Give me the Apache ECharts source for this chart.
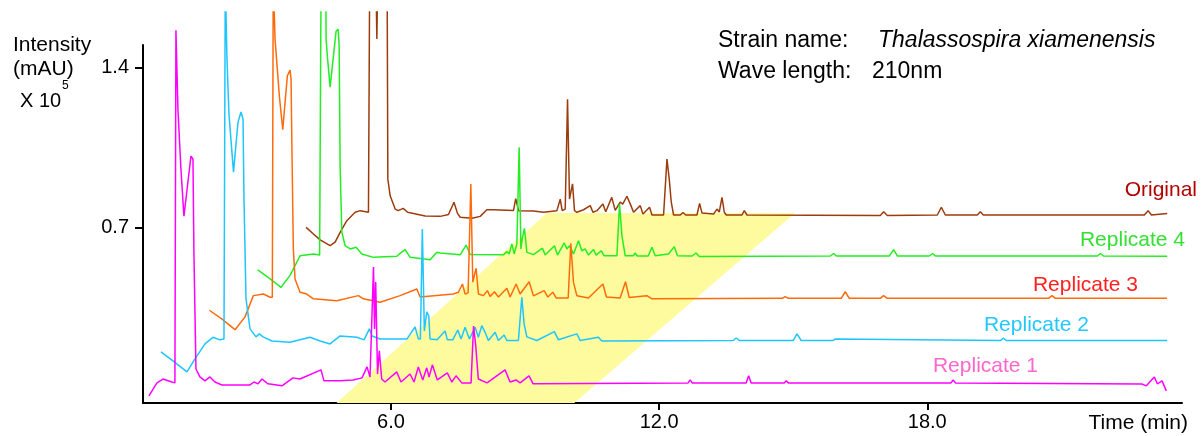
<!DOCTYPE html>
<html>
<head>
<meta charset="utf-8">
<script src="https://cdn.jsdelivr.net/npm/echarts@6/dist/echarts.min.js"></script>
<style>
  html, body { margin: 0; padding: 0; background: #fff; }
  #chart { width: 1202px; height: 436px; }
</style>
</head>
<body>
<div id="chart"></div>
<script>
// retention time (min) / intensity (x10^5 mAU), each trace in its own time
var rep1 = [[0.583,-0.037],[0.762,0.020],[0.896,0.037],[1.097,0.024],[1.164,0.020],[1.187,1.564],[1.232,1.218],[1.299,0.956],[1.366,0.750],[1.411,0.825],[1.523,1.013],[1.568,1.000],[1.590,0.584],[1.635,0.081],[1.724,0.046],[1.836,0.029],[1.948,0.046],[2.060,0.024],[2.217,0.011],[2.844,0.011],[2.933,0.024],[3.023,0.016],[3.112,0.037],[3.247,0.016],[3.560,0.007],[3.806,0.042],[3.963,0.037],[4.433,0.077],[4.500,0.029],[4.858,0.029],[5.149,0.033],[5.351,0.042],[5.463,0.090],[5.530,0.046],[5.608,0.527],[5.631,0.256],[5.657,0.462],[5.698,0.059],[5.738,0.160],[5.792,0.037],[5.866,0.024],[6.128,0.068],[6.224,0.024],[6.425,0.059],[6.515,0.024],[6.611,0.090],[6.710,0.033],[6.799,0.086],[6.851,0.046],[6.925,0.099],[7.036,0.033],[7.260,0.064],[7.359,0.024],[7.455,0.051],[7.583,0.020],[7.791,0.020],[7.847,0.269],[7.896,0.182],[7.954,0.037],[8.149,0.020],[8.552,0.077],[8.664,0.024],[8.798,0.033],[8.888,0.020],[9.089,0.051],[9.179,0.016],[12.649,0.020],[12.694,0.033],[12.739,0.020],[13.947,0.020],[14.003,0.051],[14.059,0.020],[14.800,0.020],[14.843,0.029],[14.890,0.020],[18.530,0.020],[18.581,0.033],[18.630,0.020],[22.800,0.015],[22.902,0.007],[23.081,0.046],[23.148,0.016],[23.253,0.029],[23.349,-0.015]];

var rep2 = [[-0.230,-0.030],[0.039,-0.069],[0.352,-0.117],[0.531,-0.060],[0.755,0.005],[0.934,0.034],[1.090,0.023],[1.180,0.027],[1.209,1.598],[1.232,1.598],[1.247,1.252],[1.292,1.011],[1.393,0.757],[1.494,0.976],[1.561,1.020],[1.606,0.990],[1.628,0.639],[1.673,0.202],[1.763,0.071],[1.897,0.036],[1.971,0.049],[2.054,0.036],[2.255,0.018],[2.658,0.012],[3.106,0.034],[3.330,0.018],[3.554,0.005],[3.778,0.040],[4.158,0.034],[4.315,0.023],[4.433,0.071],[4.493,0.040],[4.672,0.027],[5.277,0.027],[5.456,0.079],[5.530,0.027],[5.575,0.027],[5.619,0.508],[5.664,0.062],[5.718,0.145],[5.763,0.128],[5.792,0.027],[5.949,0.023],[6.128,0.062],[6.179,0.023],[6.300,0.023],[6.412,0.066],[6.486,0.027],[6.575,0.078],[6.672,0.027],[6.800,0.078],[6.873,0.034],[6.949,0.085],[7.023,0.056],[7.097,0.020],[7.247,0.056],[7.321,0.020],[7.448,0.044],[7.509,0.020],[7.768,0.020],[7.845,0.209],[7.896,0.093],[7.957,0.036],[8.180,0.020],[8.574,0.059],[8.664,0.023],[9.076,0.049],[9.150,0.020],[9.559,0.034],[9.636,0.018],[12.575,0.020],[12.642,0.031],[12.709,0.020],[13.918,0.020],[14.001,0.049],[14.097,0.020],[14.814,0.020],[14.859,0.027],[14.903,0.020],[18.552,0.020],[18.626,0.030],[18.686,0.020],[22.284,0.020]];

var rep3 = [[-0.230,-0.033],[0.048,-0.071],[0.345,-0.118],[0.569,-0.062],[0.755,0.031],[0.979,0.038],[1.129,0.024],[1.180,0.024],[1.200,1.413],[1.230,1.413],[1.241,1.154],[1.337,0.906],[1.413,0.757],[1.516,0.993],[1.577,1.018],[1.599,0.979],[1.621,0.643],[1.650,0.235],[1.688,0.104],[1.800,0.046],[1.950,0.038],[2.098,0.017],[2.622,0.009],[3.106,0.031],[3.217,0.017],[3.591,0.002],[4.039,0.031],[4.413,0.060],[4.487,0.025],[5.232,0.038],[5.344,0.046],[5.434,0.082],[5.494,0.038],[5.561,0.043],[5.622,0.520],[5.666,0.090],[5.740,0.151],[5.792,0.038],[5.904,0.031],[5.993,0.053],[6.054,0.027],[6.150,0.048],[6.240,0.025],[6.428,0.063],[6.501,0.025],[6.636,0.082],[6.725,0.038],[6.927,0.092],[7.023,0.030],[7.263,0.053],[7.345,0.025],[7.457,0.046],[7.531,0.021],[7.800,0.021],[7.860,0.260],[7.918,0.090],[7.995,0.030],[8.254,0.021],[8.577,0.082],[8.657,0.025],[8.964,0.021],[9.083,0.092],[9.165,0.023],[9.562,0.031],[9.674,0.017],[12.590,0.019],[12.657,0.027],[12.725,0.019],[13.911,0.019],[14.001,0.048],[14.091,0.019],[14.785,0.019],[14.858,0.031],[14.941,0.019],[18.545,0.019],[18.628,0.031],[18.702,0.019],[21.202,0.020]];

var rep4 = [[-0.228,-0.042],[0.048,-0.081],[0.294,-0.118],[0.495,-0.066],[0.719,0.020],[1.017,0.028],[1.156,0.023],[1.189,1.227],[1.294,1.227],[1.301,0.968],[1.335,0.881],[1.391,0.758],[1.458,0.881],[1.525,1.003],[1.570,1.012],[1.593,0.946],[1.615,0.413],[1.653,0.124],[1.727,0.064],[1.839,0.050],[1.973,0.057],[2.100,0.028],[2.360,0.013],[2.884,0.018],[2.942,0.028],[3.070,0.047],[3.182,0.013],[3.629,0.003],[3.779,0.035],[3.853,0.032],[4.301,0.024],[4.435,0.067],[4.525,0.026],[5.270,0.024],[5.346,0.038],[5.398,0.028],[5.458,0.072],[5.510,0.028],[5.570,0.072],[5.622,0.495],[5.660,0.050],[5.689,0.093],[5.740,0.140],[5.794,0.035],[5.942,0.025],[6.143,0.053],[6.204,0.023],[6.412,0.064],[6.479,0.023],[6.629,0.076],[6.689,0.050],[6.748,0.064],[6.837,0.028],[6.949,0.086],[7.025,0.041],[7.099,0.050],[7.173,0.023],[7.285,0.047],[7.345,0.023],[7.457,0.042],[7.524,0.020],[7.809,0.020],[7.867,0.247],[7.921,0.108],[7.995,0.020],[8.174,0.020],[8.218,0.032],[8.263,0.019],[8.509,0.019],[8.592,0.057],[8.666,0.020],[8.964,0.028],[9.092,0.060],[9.165,0.020],[9.494,0.019],[9.577,0.032],[9.651,0.017],[12.584,0.019],[12.658,0.030],[12.718,0.019],[13.904,0.019],[14.001,0.047],[14.084,0.019],[14.800,0.019],[14.874,0.030],[14.935,0.019],[18.562,0.019],[18.629,0.030],[18.696,0.019],[20.121,0.018]];

var original = [[-0.228,-0.041],[-0.064,-0.070],[0.086,-0.096],[0.309,-0.121],[0.421,-0.106],[0.533,-0.063],[0.683,-0.012],[0.869,0.025],[0.981,0.032],[1.167,0.025],[1.194,1.042],[1.335,1.042],[1.355,0.783],[1.375,1.042],[1.585,1.042],[1.601,0.170],[1.653,0.097],[1.765,0.039],[1.832,0.032],[1.944,0.042],[2.044,0.025],[2.436,0.009],[2.772,0.007],[2.958,0.015],[3.081,0.069],[3.159,0.020],[3.220,0.003],[3.482,-0.001],[3.667,0.007],[3.817,0.036],[3.965,0.036],[4.413,0.033],[4.462,0.085],[4.525,0.032],[4.861,0.030],[5.084,0.025],[5.384,0.032],[5.458,0.082],[5.503,0.032],[5.570,0.039],[5.622,0.520],[5.666,0.083],[5.734,0.149],[5.778,0.032],[5.832,0.025],[5.980,0.036],[6.130,0.054],[6.190,0.025],[6.280,0.032],[6.414,0.061],[6.477,0.027],[6.611,0.090],[6.689,0.033],[6.801,0.069],[6.857,0.061],[6.951,0.095],[7.041,0.054],[7.099,0.025],[7.249,0.054],[7.310,0.017],[7.457,0.047],[7.511,0.013],[7.771,0.013],[7.847,0.258],[7.898,0.170],[7.943,0.069],[7.995,0.013],[8.145,0.013],[8.205,0.024],[8.268,0.013],[8.518,0.013],[8.577,0.064],[8.630,0.022],[8.890,0.017],[8.966,0.039],[9.017,0.026],[9.078,0.090],[9.130,0.025],[9.174,0.013],[9.526,0.013],[9.577,0.032],[9.638,0.013],[12.620,0.011],[12.696,0.027],[12.778,0.011],[13.897,0.013],[13.987,0.047],[14.076,0.013],[14.792,0.013],[14.860,0.027],[14.926,0.013],[18.530,0.013],[18.614,0.032],[18.688,0.013],[19.040,0.020]];

var traceNames = ['Original', 'Replicate 4', 'Replicate 3', 'Replicate 2', 'Replicate 1'];
var traceData = [original, rep4, rep3, rep2, rep1];
var traceStep = [4, 3, 2, 1, 0]; // position in the waterfall, 0 = front

// highlighted window (display time / intensity of its corners)
var bandTime = [4.78, 10.10, 15.04, 9.49];
var bandInt = [-0.068, -0.068, 0.764, 0.764];

var xTicks = [6, 12, 18];
var yTicks = [0.7, 1.4];

var DX = 1.082;   // waterfall shift per trace, min
var DY = 0.1855;  // waterfall shift per trace, x10^5 mAU
var lineColors = ['#9c3c0c', '#22ee22', '#ff6a0a', '#1ec5ff', '#ff00ff'];
var labelColors = ['#b30000', '#33e033', '#ff2020', '#22c8ff', '#ff66cc'];
var FONT = '"Liberation Sans", Arial, sans-serif';

var myChart = echarts.init(document.getElementById('chart'));

var series = [{
    type: 'custom',
    xAxisIndex: 0,
    yAxisIndex: 0,
    silent: true,
    z: 1,
    data: [[bandTime[0], bandInt[0]]],
    renderItem: function (params, api) {
        var pts = bandTime.map(function (t, i) { return api.coord([t, bandInt[i]]); });
        return { type: 'polygon', shape: { points: pts }, style: { fill: '#fdfb9e' } };
    }
}];

traceData.forEach(function (d, i) {
    var k = traceStep[i];
    series.push({
        name: traceNames[i],
        type: 'line',
        xAxisIndex: 0,
        yAxisIndex: 0,
        showSymbol: false,
        symbol: 'none',
        clip: true,
        z: 3 + i,
        lineStyle: { color: lineColors[i], width: 1.5 },
        data: d.map(function (p) { return [p[0] + k * DX, p[1] + k * DY]; })
    });
});

// trace labels at the right
var labelPos = [[1197, 190], [1185, 240], [1138, 285], [1089, 325], [1038, 366]];
var graphics = traceNames.map(function (n, i) {
    return {
        type: 'text', x: labelPos[i][0], y: labelPos[i][1],
        style: { text: n, fill: labelColors[i], font: '21px ' + FONT, align: 'right', verticalAlign: 'middle' }
    };
});
graphics.push(
    { type: 'text', x: 718, y: 41, style: { text: 'Strain name:', fill: '#000', font: '23px ' + FONT, verticalAlign: 'middle' } },
    { type: 'text', x: 878, y: 41, style: { text: 'Thalassospira xiamenensis', fill: '#000', font: 'italic 23px ' + FONT, verticalAlign: 'middle' } },
    { type: 'text', x: 718, y: 72, style: { text: 'Wave length:', fill: '#000', font: '23px ' + FONT, verticalAlign: 'middle' } },
    { type: 'text', x: 872, y: 72, style: { text: '210nm', fill: '#000', font: '23px ' + FONT, verticalAlign: 'middle' } },
    { type: 'text', x: 13, y: 45, style: { text: 'Intensity', fill: '#000', font: '21px ' + FONT, verticalAlign: 'middle' } },
    { type: 'text', x: 13, y: 69, style: { text: '(mAU)', fill: '#000', font: '21px ' + FONT, verticalAlign: 'middle' } },
    { type: 'text', x: 20, y: 101, style: { text: 'X 10', fill: '#000', font: '20px ' + FONT, verticalAlign: 'middle' } },
    { type: 'text', x: 62, y: 86, style: { text: '5', fill: '#000', font: '12px ' + FONT, verticalAlign: 'middle' } },
    { type: 'text', x: 1188, y: 423, style: { text: 'Time (min)', fill: '#000', font: '21px ' + FONT, align: 'right', verticalAlign: 'middle' } }
);

var option = {
    animation: false,
    backgroundColor: '#fff',
    textStyle: { fontFamily: FONT },
    grid: [
        { left: 143, right: 20, top: 12, bottom: 33 },
        { left: 143, right: 20, top: 45, bottom: 33 }
    ],
    xAxis: [{
        type: 'value', gridIndex: 0, min: 0.45, max: 23.7,
        axisLine: { onZero: false, lineStyle: { color: '#000', width: 2 } },
        axisTick: { customValues: xTicks, length: 7, lineStyle: { color: '#000', width: 2 } },
        axisLabel: {
            customValues: xTicks, color: '#000', fontSize: 20, margin: 9,
            formatter: function (v) { return v.toFixed(1); }
        },
        splitLine: { show: false }
    }, {
        type: 'value', gridIndex: 1, min: 0, max: 1, show: false
    }],
    yAxis: [{
        type: 'value', gridIndex: 0, min: -0.068, max: 1.6436, show: false
    }, {
        type: 'value', gridIndex: 1, min: -0.068, max: 1.5,
        axisLine: { show: true, onZero: false, lineStyle: { color: '#000', width: 2 } },
        axisTick: { show: true, customValues: yTicks, length: 8, lineStyle: { color: '#000', width: 2 } },
        axisLabel: {
            customValues: yTicks, color: '#000', fontSize: 20, margin: 14,
            formatter: function (v) { return v.toFixed(1); }
        },
        splitLine: { show: false }
    }],
    graphic: graphics,
    series: series
};
myChart.setOption(option);
</script>
</body>
</html>
